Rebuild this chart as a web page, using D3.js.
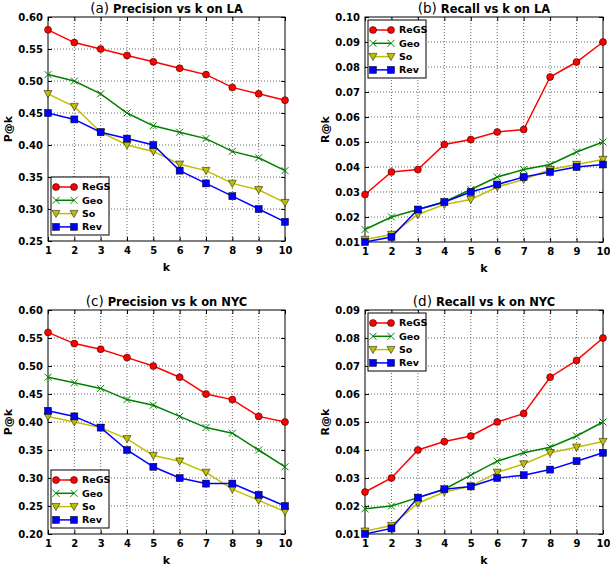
<!DOCTYPE html>
<html>
<head>
<meta charset="utf-8">
<script src="https://cdn.jsdelivr.net/npm/d3@7"></script>
<style>
  body { margin: 0; background: white; }
  svg text { font-family: "DejaVu Sans", sans-serif; }
</style>
</head>
<body>
<div id="chart"></div>
<script>
// k values shared by all four panels
const ks = [1, 2, 3, 4, 5, 6, 7, 8, 9, 10]
const methods = ["ReGS", "Geo", "So", "Rev"]

// (a) precision on LA
const precLA_ReGS = [0.58, 0.56, 0.55, 0.54, 0.53, 0.52, 0.51, 0.49, 0.48, 0.47]
const precLA_Geo  = [0.51, 0.50, 0.48, 0.45, 0.43, 0.42, 0.41, 0.39, 0.38, 0.36]
const precLA_So   = [0.48, 0.46, 0.42, 0.40, 0.39, 0.37, 0.36, 0.34, 0.33, 0.31]
const precLA_Rev  = [0.45, 0.44, 0.42, 0.41, 0.40, 0.36, 0.34, 0.32, 0.30, 0.28]

// (b) recall on LA
const recLA_ReGS = [0.029, 0.038, 0.039, 0.049, 0.051, 0.054, 0.055, 0.076, 0.082, 0.090]
const recLA_Geo  = [0.015, 0.020, 0.023, 0.026, 0.031, 0.036, 0.039, 0.041, 0.046, 0.050]
const recLA_So   = [0.011, 0.013, 0.021, 0.025, 0.027, 0.032, 0.035, 0.039, 0.041, 0.043]
const recLA_Rev  = [0.010, 0.012, 0.023, 0.026, 0.030, 0.033, 0.036, 0.038, 0.040, 0.041]

// (c) precision on NYC
const precNYC_ReGS = [0.56, 0.54, 0.53, 0.515, 0.50, 0.48, 0.45, 0.44, 0.41, 0.40]
const precNYC_Geo  = [0.48, 0.47, 0.46, 0.44, 0.43, 0.41, 0.39, 0.38, 0.35, 0.32]
const precNYC_So   = [0.41, 0.40, 0.39, 0.37, 0.34, 0.33, 0.31, 0.28, 0.26, 0.24]
const precNYC_Rev  = [0.42, 0.41, 0.39, 0.35, 0.32, 0.30, 0.29, 0.29, 0.27, 0.25]

// (d) recall on NYC
const recNYC_ReGS = [0.025, 0.030, 0.040, 0.043, 0.045, 0.050, 0.053, 0.066, 0.072, 0.080]
const recNYC_Geo  = [0.019, 0.020, 0.023, 0.026, 0.031, 0.036, 0.039, 0.041, 0.045, 0.050]
const recNYC_So   = [0.011, 0.013, 0.021, 0.025, 0.027, 0.032, 0.035, 0.039, 0.041, 0.043]
const recNYC_Rev  = [0.010, 0.012, 0.023, 0.026, 0.027, 0.030, 0.031, 0.033, 0.036, 0.039]

// tick values per panel
const precTicksLA  = [0.25, 0.30, 0.35, 0.40, 0.45, 0.50, 0.55, 0.60]
const recTicksLA   = [0.01, 0.02, 0.03, 0.04, 0.05, 0.06, 0.07, 0.08, 0.09, 0.10]
const precTicksNYC = [0.20, 0.25, 0.30, 0.35, 0.40, 0.45, 0.50, 0.55, 0.60]
const recTicksNYC  = [0.01, 0.02, 0.03, 0.04, 0.05, 0.06, 0.07, 0.08, 0.09]

const colors = {ReGS: "#ff0000", Geo: "#008000", So: "#bfbf00", Rev: "#0000ff"}

const W = 610, H = 566
const svg = d3.select("#chart").append("svg")
    .attr("width", W).attr("height", H)
    .attr("viewBox", [0, 0, W, H])

//draws a marker of the given method at (x,y)
function marker(g, name, x, y){
    const c = colors[name]
    if(name == "ReGS"){
        g.append("circle").attr("cx", x).attr("cy", y).attr("r", 3.5)
            .attr("fill", c).attr("stroke", "black").attr("stroke-width", 0.5)
    }else if(name == "Geo"){
        const s = 3.5
        g.append("path")
            .attr("d", `M${x-s},${y-s}L${x+s},${y+s}M${x-s},${y+s}L${x+s},${y-s}`)
            .attr("stroke", c).attr("stroke-width", 1)
    }else if(name == "So"){
        const s = 4
        g.append("path")
            .attr("d", `M${x-s},${y-s*0.8}L${x+s},${y-s*0.8}L${x},${y+s}Z`)
            .attr("fill", c).attr("stroke", "black").attr("stroke-width", 0.5)
    }else{
        const s = 3.5
        g.append("rect").attr("x", x-s).attr("y", y-s).attr("width", 2*s).attr("height", 2*s)
            .attr("fill", c).attr("stroke", "black").attr("stroke-width", 0.5)
    }
}

function panel(opts){
    const {left, right, top, bottom, yDomain, yTicks, series, letter, title, ylabel, legendPos} = opts

    const x = d3.scaleLinear().domain([1, 10]).range([left, right])
    const y = d3.scaleLinear().domain(yDomain).range([bottom, top])
    const g = svg.append("g")

    // dotted grid
    g.append("g").selectAll("line").data(ks.slice(1, -1)).join("line")
        .attr("x1", d => x(d)).attr("x2", d => x(d))
        .attr("y1", top).attr("y2", bottom)
        .attr("stroke", "black").attr("stroke-width", 0.6).attr("stroke-dasharray", "1,2")
    g.append("g").selectAll("line").data(yTicks.slice(1, -1)).join("line")
        .attr("x1", left).attr("x2", right)
        .attr("y1", d => y(d)).attr("y2", d => y(d))
        .attr("stroke", "black").attr("stroke-width", 0.6).attr("stroke-dasharray", "1,2")

    // axes: ticks pointing inward on all four sides
    const fmt = d3.format(".2f")
    const bottomAx = g.append("g").attr("transform", `translate(0,${bottom})`)
        .call(d3.axisBottom(x).tickValues(ks).tickSizeInner(-4).tickSizeOuter(0).tickPadding(6))
    const topAx = g.append("g").attr("transform", `translate(0,${top})`)
        .call(d3.axisTop(x).tickValues(ks).tickSizeInner(-4).tickSizeOuter(0).tickFormat(""))
    const leftAx = g.append("g").attr("transform", `translate(${left},0)`)
        .call(d3.axisLeft(y).tickValues(yTicks).tickFormat(fmt).tickSizeInner(-4).tickSizeOuter(0).tickPadding(5))
    const rightAx = g.append("g").attr("transform", `translate(${right},0)`)
        .call(d3.axisRight(y).tickValues(yTicks).tickSizeInner(-4).tickSizeOuter(0).tickFormat(""))
    for(const ax of [bottomAx, topAx, leftAx, rightAx]){
        ax.select(".domain").remove()
        ax.selectAll(".tick line").attr("stroke", "black")
        ax.selectAll("text").attr("font-size", 10).attr("font-weight", "bold").attr("fill", "black")
    }
    bottomAx.selectAll("text").attr("dy", "0.71em")

    // frame
    g.append("rect").attr("x", left).attr("y", top)
        .attr("width", right - left).attr("height", bottom - top)
        .attr("fill", "none").attr("stroke", "black").attr("stroke-width", 1)

    // lines + markers
    const line = d3.line().x((d, i) => x(ks[i])).y(d => y(d))
    const marks = g.append("g")
    methods.forEach(m => {
        marks.append("path").datum(series[m])
            .attr("d", line).attr("fill", "none")
            .attr("stroke", colors[m]).attr("stroke-width", 1.5)
    })
    methods.forEach(m => {
        series[m].forEach((v, i) => marker(marks, m, x(ks[i]), y(v)))
    })

    // title
    const t = g.append("text").attr("x", (left + right) / 2).attr("y", top - 4)
        .attr("text-anchor", "middle").attr("fill", "black")
    t.append("tspan").text(letter).attr("font-weight", "normal").attr("font-size", 13.5)
    t.append("tspan").text(" " + title).attr("font-weight", "bold").attr("font-size", 11.5)

    // axis labels
    g.append("text").attr("x", (left + right) / 2).attr("y", bottom + 30)
        .attr("text-anchor", "middle").attr("font-size", 11).attr("font-weight", "bold").text("k")
    g.append("text")
        .attr("transform", `translate(${left - 36},${(top + bottom) / 2}) rotate(-90)`)
        .attr("text-anchor", "middle").attr("font-size", 11).attr("font-weight", "bold").text(ylabel)

    // legend
    const lw = 58, lh = 58
    const lx = left + 3
    const ly = legendPos == "lower" ? bottom - 6 - lh : top + 3
    const leg = g.append("g").attr("transform", `translate(${lx},${ly})`)
    leg.append("rect").attr("width", lw).attr("height", lh)
        .attr("fill", "white").attr("stroke", "black").attr("stroke-width", 1)
    methods.forEach((m, i) => {
        const yy = 10 + i * 13.3
        leg.append("line").attr("x1", 5).attr("x2", 23).attr("y1", yy).attr("y2", yy)
            .attr("stroke", colors[m]).attr("stroke-width", 1.5)
        marker(leg, m, 5, yy)
        marker(leg, m, 23, yy)
        leg.append("text").attr("x", 31).attr("y", yy).attr("dy", "0.35em")
            .attr("font-size", 9.5).attr("font-weight", "bold").text(m)
    })
}

panel({left: 48, right: 285, top: 17, bottom: 241, yDomain: [0.25, 0.60], yTicks: precTicksLA,
    series: {ReGS: precLA_ReGS, Geo: precLA_Geo, So: precLA_So, Rev: precLA_Rev},
    letter: "(a)", title: "Precision vs k on LA", ylabel: "P@k", legendPos: "lower"})
panel({left: 365, right: 603, top: 17, bottom: 242, yDomain: [0.01, 0.10], yTicks: recTicksLA,
    series: {ReGS: recLA_ReGS, Geo: recLA_Geo, So: recLA_So, Rev: recLA_Rev},
    letter: "(b)", title: "Recall vs k on LA", ylabel: "R@k", legendPos: "upper"})
panel({left: 48, right: 285, top: 310, bottom: 534, yDomain: [0.20, 0.60], yTicks: precTicksNYC,
    series: {ReGS: precNYC_ReGS, Geo: precNYC_Geo, So: precNYC_So, Rev: precNYC_Rev},
    letter: "(c)", title: "Precision vs k on NYC", ylabel: "P@k", legendPos: "lower"})
panel({left: 365, right: 603, top: 310, bottom: 534, yDomain: [0.01, 0.09], yTicks: recTicksNYC,
    series: {ReGS: recNYC_ReGS, Geo: recNYC_Geo, So: recNYC_So, Rev: recNYC_Rev},
    letter: "(d)", title: "Recall vs k on NYC", ylabel: "R@k", legendPos: "upper"})
</script>
</body>
</html>
